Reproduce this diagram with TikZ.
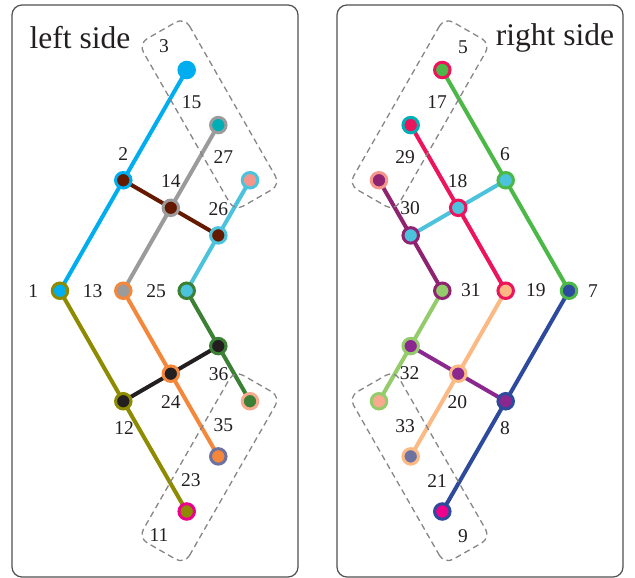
\documentclass[tikz,border=0pt]{standalone}
\usepackage{fontspec}
\setmainfont{Liberation Serif}
\pgfdeclarelayer{bg}
\pgfsetlayers{bg,main}
\definecolor{cyanA}{HTML}{00AEEF}
\definecolor{brownA}{HTML}{651A00}
\definecolor{grayA}{HTML}{9B9B9B}
\definecolor{lcyan}{HTML}{4CC3DC}
\definecolor{oliveA}{HTML}{8F8B00}
\definecolor{orangeA}{HTML}{F5873A}
\definecolor{dgreen}{HTML}{3B8034}
\definecolor{blackA}{HTML}{231F20}
\definecolor{tealA}{HTML}{00AFB5}
\definecolor{salmonA}{HTML}{F4968C}
\definecolor{peachA}{HTML}{F9A98E}
\definecolor{slateA}{HTML}{6E72A1}
\definecolor{magentaA}{HTML}{EC008C}
\definecolor{greenA}{HTML}{4CB847}
\definecolor{crimsonA}{HTML}{EC145A}
\definecolor{maroonA}{HTML}{8F2271}
\definecolor{lgreen}{HTML}{95CC6B}
\definecolor{lorange}{HTML}{FDB983}
\definecolor{blueA}{HTML}{2E4A9C}
\definecolor{purpleA}{HTML}{8B2890}
\definecolor{frameC}{HTML}{505050}
\definecolor{dashC}{HTML}{868686}
\begin{document}
\begin{tikzpicture}[x=1pt,y=-1pt,
  nd/.style={circle, inner sep=0pt, minimum size=15.5pt, line width=3pt},
  lab/.style={inner sep=0pt, text=blackA, font=\fontsize{19.5}{20}\selectfont},
  ttl/.style={inner sep=0pt, text=blackA, font=\fontsize{31.5}{32}\selectfont, anchor=base},
  edge/.style={line width=4pt, line cap=round},
  frm/.style={draw=frameC, line width=1.2pt, rounded corners=10pt},
  dbox/.style={draw=dashC, line width=1.3pt, dash pattern=on 6pt off 4pt, rounded corners=10pt}]
\useasboundingbox (0,0) rectangle (635,578);

% frames
\draw[frm] (12,5) rectangle (298,577);
\draw[frm] (337,5) rectangle (623,577);

% titles
\node[ttl] (tleft) at (80,49) {left side};
\node[ttl] (tright) at (555,46) {right side};

% dashed boxes
\draw[dbox] (184.47,17.27) -- (280.39,184.80) -- (234.39,211.14) -- (138.47,43.61) -- cycle;
\draw[dbox] (184.47,564.23) -- (280.39,396.70) -- (234.39,370.36) -- (138.47,537.89) -- cycle;
\draw[dbox] (444.53,17.27) -- (348.61,184.80) -- (394.61,211.14) -- (490.53,43.61) -- cycle;
\draw[dbox] (444.53,564.23) -- (348.61,396.70) -- (394.61,370.36) -- (490.53,537.89) -- cycle;

% ---------- left nodes ----------
\node[nd, draw=cyanA, fill=cyanA] (L3) at (186.7,70) {};
\node[nd, draw=grayA, fill=tealA] (L27) at (218.3,125.1) {};
\node[nd, draw=lcyan, fill=salmonA] (L26t) at (250,180.25) {};
\node[nd, draw=cyanA, fill=brownA] (L2) at (123.3,180.25) {};
\node[nd, draw=grayA, fill=brownA] (L14) at (170.8,207.8) {};
\node[nd, draw=lcyan, fill=brownA] (L26) at (218.3,235.4) {};
\node[nd, draw=oliveA, fill=cyanA] (L1) at (60,290.75) {};
\node[nd, draw=orangeA, fill=grayA] (L13) at (123.3,290.75) {};
\node[nd, draw=dgreen, fill=lcyan] (L25) at (186.7,290.75) {};
\node[nd, draw=dgreen, fill=blackA] (L36) at (218.3,346.1) {};
\node[nd, draw=orangeA, fill=blackA] (L24) at (170.8,373.7) {};
\node[nd, draw=oliveA, fill=blackA] (L12) at (123.3,401.25) {};
\node[nd, draw=peachA, fill=dgreen] (L36l) at (250,401.25) {};
\node[nd, draw=slateA, fill=orangeA] (L35l) at (218.3,456.4) {};
\node[nd, draw=magentaA, fill=oliveA] (L23l) at (186.7,511.5) {};

% ---------- right nodes ----------
\node[nd, draw=crimsonA, fill=greenA] (R5) at (442.3,70) {};
\node[nd, draw=tealA, fill=crimsonA] (R29) at (410.7,125.1) {};
\node[nd, draw=salmonA, fill=maroonA] (R30t) at (379,180.25) {};
\node[nd, draw=greenA, fill=lcyan] (R6) at (505.7,180.25) {};
\node[nd, draw=crimsonA, fill=lcyan] (R18) at (458.2,207.8) {};
\node[nd, draw=maroonA, fill=lcyan] (R30) at (410.7,235.4) {};
\node[nd, draw=maroonA, fill=lgreen] (R31) at (442.3,290.75) {};
\node[nd, draw=crimsonA, fill=lorange] (R19) at (505.7,290.75) {};
\node[nd, draw=greenA, fill=blueA] (R7) at (569,290.75) {};
\node[nd, draw=lgreen, fill=purpleA] (R32) at (410.7,346.1) {};
\node[nd, draw=lorange, fill=purpleA] (R20) at (458.2,373.7) {};
\node[nd, draw=blueA, fill=purpleA] (R8) at (505.7,401.25) {};
\node[nd, draw=lgreen, fill=peachA] (R33l) at (379,401.25) {};
\node[nd, draw=lorange, fill=slateA] (R21l) at (410.7,456.4) {};
\node[nd, draw=blueA, fill=magentaA] (R9l) at (442.3,511.5) {};

% ---------- edges ----------
\begin{pgfonlayer}{bg}
\draw[edge, cyanA] (L3.center) -- (L2.center) -- (L1.center);
\draw[edge, grayA] (L27.center) -- (L14.center) -- (L13.center);
\draw[edge, lcyan] (L26t.center) -- (L26.center) -- (L25.center);
\draw[edge, brownA] (L2.center) -- (L14.center) -- (L26.center);
\draw[edge, oliveA] (L1.center) -- (L12.center) -- (L23l.center);
\draw[edge, orangeA] (L13.center) -- (L24.center) -- (L35l.center);
\draw[edge, dgreen] (L25.center) -- (L36.center) -- (L36l.center);
\draw[edge, blackA] (L12.center) -- (L24.center) -- (L36.center);

\draw[edge, greenA] (R5.center) -- (R6.center) -- (R7.center);
\draw[edge, crimsonA] (R29.center) -- (R18.center) -- (R19.center);
\draw[edge, maroonA] (R30t.center) -- (R30.center) -- (R31.center);
\draw[edge, lcyan] (R30.center) -- (R18.center) -- (R6.center);
\draw[edge, lgreen] (R31.center) -- (R32.center) -- (R33l.center);
\draw[edge, lorange] (R19.center) -- (R20.center) -- (R21l.center);
\draw[edge, blueA] (R7.center) -- (R8.center) -- (R9l.center);
\draw[edge, purpleA] (R32.center) -- (R20.center) -- (R8.center);
\end{pgfonlayer}

% ---------- left labels ----------
\node[lab] (n3) at (164,46) {3};
\node[lab] (n15) at (191.7,101.7) {15};
\node[lab] (n27) at (223.3,156.7) {27};
\node[lab] (n2) at (123.3,154) {2};
\node[lab] (n14) at (170.8,180.8) {14};
\node[lab] (n26) at (218.3,209.2) {26};
\node[lab] (n1) at (33.3,291) {1};
\node[lab] (n13) at (92.5,291) {13};
\node[lab] (n25) at (156,291) {25};
\node[lab] (n36) at (218.5,374) {36};
\node[lab] (n24) at (170.8,401.7) {24};
\node[lab] (n12) at (124,428.3) {12};
\node[lab] (n35) at (223.3,425) {35};
\node[lab] (n23) at (190.8,480) {23};
\node[lab] (n11) at (159,535) {11};

% ---------- right labels ----------
\node[lab] (n5) at (463,47) {5};
\node[lab] (n17) at (437,102) {17};
\node[lab] (n29) at (405,157) {29};
\node[lab] (n6) at (505,154) {6};
\node[lab] (n18) at (457.5,180.8) {18};
\node[lab] (n30) at (410,208.3) {30};
\node[lab] (n31) at (470.8,290.5) {31};
\node[lab] (n19) at (535.8,290.5) {19};
\node[lab] (n7) at (593,291) {7};
\node[lab] (n32) at (409.7,373.3) {32};
\node[lab] (n20) at (457.3,401.7) {20};
\node[lab] (n8) at (505,428) {8};
\node[lab] (n33) at (405,426) {33};
\node[lab] (n21) at (437,481) {21};
\node[lab] (n9) at (463,536) {9};
\end{tikzpicture}
\end{document}
